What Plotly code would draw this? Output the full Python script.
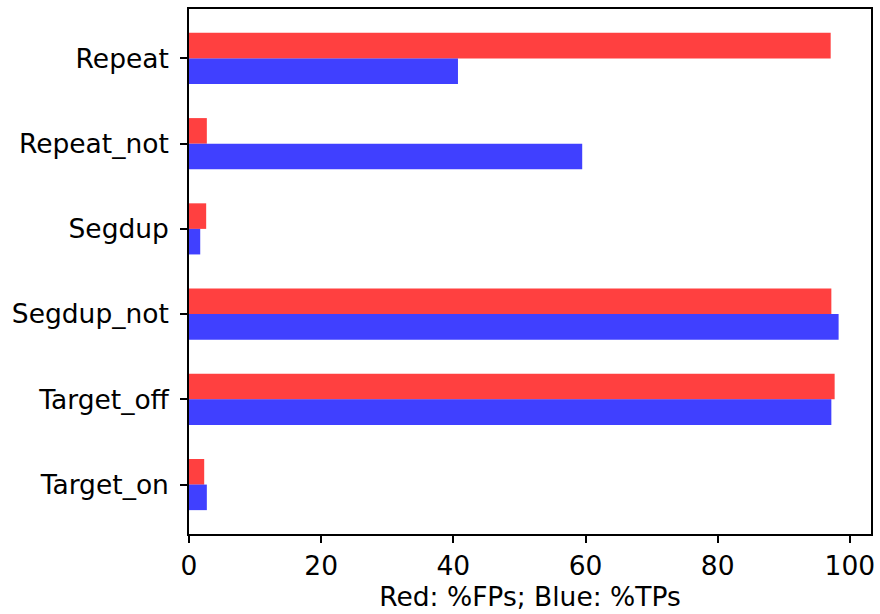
import plotly.graph_objects as go

categories = ["Repeat", "Repeat_not", "Segdup", "Segdup_not", "Target_off", "Target_on"]
fp_pct = [97.1, 2.7, 2.6, 97.2, 97.7, 2.3]   # red
tp_pct = [40.7, 59.5, 1.7, 98.3, 97.2, 2.7]  # blue
x_ticks = [0, 20, 40, 60, 80, 100]

pos = list(range(len(categories)))
bar_h = 0.3

fig = go.Figure()
fig.add_trace(go.Bar(
    x=fp_pct, y=[p - bar_h / 2 for p in pos], orientation="h", width=bar_h,
    marker=dict(color="rgba(255,0,0,0.75)", line=dict(width=0)), name="FP",
))
fig.add_trace(go.Bar(
    x=tp_pct, y=[p + bar_h / 2 for p in pos], orientation="h", width=bar_h,
    marker=dict(color="rgba(0,0,255,0.75)", line=dict(width=0)), name="TP",
))

FS = 26.5
fig.update_layout(
    width=880, height=614,
    margin=dict(l=189, r=9, t=9, b=80, autoexpand=False),
    paper_bgcolor="white", plot_bgcolor="white",
    barmode="overlay", showlegend=False,
    font=dict(family="DejaVu Sans", size=FS, color="black"),
    xaxis=dict(
        range=[0, 103.2], tickvals=x_ticks, ticktext=[str(t) for t in x_ticks],
        tickfont=dict(size=FS), automargin=False, ticklabelstandoff=0,
        showgrid=False, zeroline=False, showline=True, linecolor="black", linewidth=1.6,
        mirror=True, ticks="outside", ticklen=7, tickwidth=1.5, tickcolor="black",
        title=dict(text="Red: %FPs; Blue: %TPs", standoff=6, font=dict(size=FS)),
    ),
    yaxis=dict(
        range=[5.58, -0.58], tickvals=pos, ticktext=categories,
        tickfont=dict(size=FS), automargin=False, ticklabelstandoff=6,
        showgrid=False, zeroline=False, showline=True, linecolor="black", linewidth=1.6,
        mirror=True, ticks="outside", ticklen=7, tickwidth=1.5, tickcolor="black",
    ),
)

fig.write_html("out.html", config={"displayModeBar": False},
               post_script="document.body.style.margin='0';")
